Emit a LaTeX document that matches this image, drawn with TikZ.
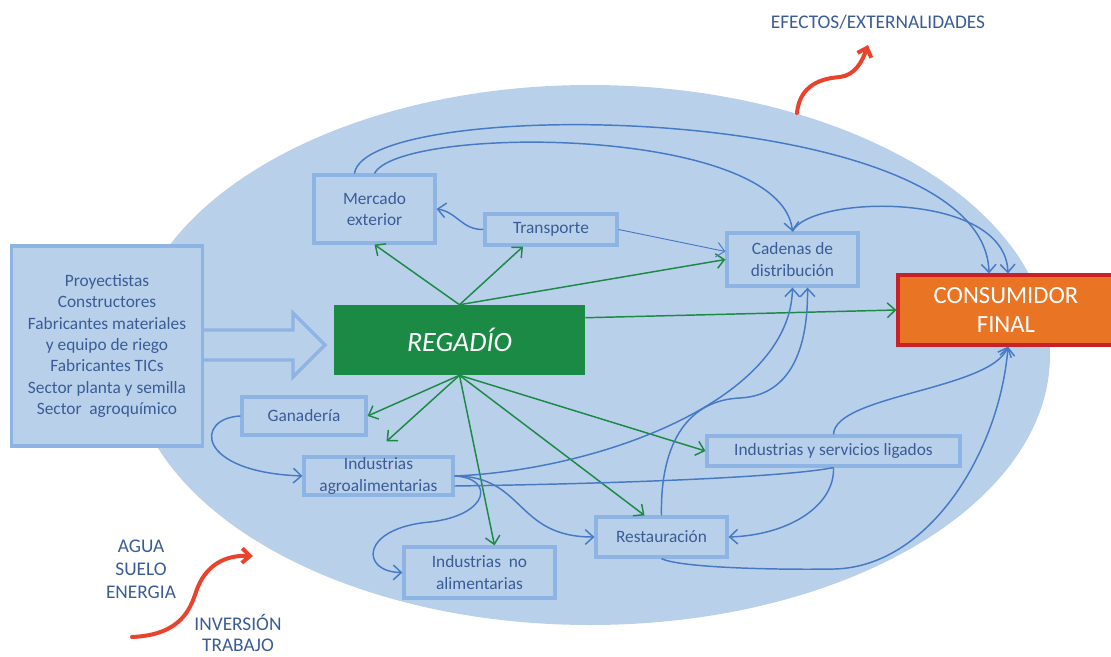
\documentclass[tikz,border=0pt]{standalone}
\usepackage{fontspec}
\setmainfont{Carlito}
\usepackage{xcolor}
\usetikzlibrary{arrows.meta,calc}
\definecolor{ellfill}{RGB}{185,208,235}
\definecolor{boxline}{RGB}{141,180,226}
\definecolor{txtblue}{RGB}{58,92,150}
\definecolor{linkblue}{RGB}{70,122,196}
\definecolor{riego}{RGB}{27,138,68}
\definecolor{consfill}{RGB}{232,116,36}
\definecolor{consline}{RGB}{200,34,40}
\definecolor{redflow}{RGB}{234,67,45}
\tikzset{>={Straight Barb[length=6pt,width=11pt]}}
\tikzset{
	box/.style={draw=boxline, line width=2.4pt, fill=ellfill, text=txtblue,
			align=center, inner sep=0pt, font=\fontsize{13}{16}\selectfont},
	bluelink/.style={draw=linkblue, line width=1.1pt, ->},
	greenlink/.style={draw=riego, line width=1.1pt, ->},
	extflow/.style={draw=redflow, line width=3pt, line cap=round,
			-{Straight Barb[length=6pt,width=11pt]}},
	labeltxt/.style={text=txtblue, align=center, inner sep=0pt}
}

\begin{document}
\begin{tikzpicture}[x=0.75pt,y=-0.75pt]
		\useasboundingbox (0,0) rectangle (1111,657);
		\fill[ellfill] (590,355) ellipse [x radius=460, y radius=270];

		\node[box, minimum width=143.25pt, minimum height=150pt] (prov) at (107,346)
		{Proyectistas\\Constructores\\Fabricantes materiales\\y equipo de riego\\Fabricantes TICs\\Sector planta y semilla\\Sector~ agroquímico};
		\draw[boxline, line width=2.4pt, fill=ellfill, line join=miter] (204,330) -- (293,330) -- (293,313) -- (325,345) -- (293,377) -- (293,360) -- (204,360);

		\node[fill=riego, text=white, minimum width=188.25pt, minimum height=52.5pt, inner sep=0pt,
			font=\fontsize{21}{25}\selectfont\itshape] (reg) at (459.5,340) {REGADÍO};
		\node[box, minimum width=90.75pt, minimum height=51pt] (merc) at (374.5,209) {Mercado\\exterior};
		\node[box, minimum width=99pt, minimum height=23.25pt] (transp) at (551,229.5) {Transporte};
		\node[box, minimum width=98.25pt, minimum height=39.75pt] (cad) at (792.5,259.5) {Cadenas de\\distribución};
		\node[draw=consline, fill=consfill, line width=2.4pt, text=white, align=center, inner sep=0pt,
			minimum width=162pt, minimum height=52.5pt, font=\fontsize{18.5}{22}\selectfont] (cons) at (1006,310) {CONSUMIDOR\\FINAL};
		\node[box, minimum width=93pt, minimum height=28.5pt] (gan) at (304,416) {Ganadería};
		\node[box, minimum width=111.75pt, minimum height=28.5pt] (agro) at (378.5,476) {Industrias\\agroalimentarias};
		\node[box, minimum width=189.75pt, minimum height=22.5pt] (serv) at (833.5,451) {Industrias y servicios ligados};
		\node[box, minimum width=98.25pt, minimum height=30pt] (rest) at (661.5,537) {Restauración};
		\node[box, minimum width=113.25pt, minimum height=38.25pt] (noal) at (479.5,572.5) {Industrias~ no\\alimentarias};

		\draw[greenlink] (reg.north) -- (merc.south);
		\draw[greenlink] (reg.north) -- ($(transp.south)+(-28,0)$);
		\draw[greenlink] (reg.north) -- (cad.west);
		\draw[greenlink] ($(reg.north east)+(0,13)$) -- (cons.west);
		\draw[greenlink] (reg.south) -- (gan.east);
		\draw[greenlink] (reg.south) -- ($(agro.north)+(8,-14)$);
		\draw[greenlink] (reg.south) -- ($(noal.north)+(15,0)$);
		\draw[greenlink] (reg.south) -- ($(rest.north)+(-17,0)$);
		\draw[greenlink] (reg.south) -- (serv.west);

		\draw[bluelink] ($(merc.north)+(-20,0)$) .. controls (365,95) and (985,100) .. ($(cons.north)+(-17,0)$);
		\draw[bluelink] (merc.north) .. controls (400,125) and (780,125) .. (cad.north);
		\draw[bluelink] (cad.north) .. controls (810,195) and (1005,190) .. ($(cons.north)+(2,0)$);
		\draw[bluelink] (transp.west) .. controls (462,230) and (457,212) .. (merc.east);
		\draw[bluelink, line width=0.7pt] (transp.east) -- ($(cad.west)+(0,-8)$);
		\draw[bluelink] (agro.east) .. controls (600,470) and (790,400) .. (cad.south);
		\draw[bluelink] (rest.north) .. controls (660,440) and (690,400) .. (740,398)
		.. controls (800,395) and (808,330) .. ($(cad.south)+(15,0)$);
		\draw[bluelink, -] ($(agro.east)+(0,10)$) .. controls (600,484) and (780,478) .. (serv.south);
		\draw[bluelink] (serv.south) .. controls (835,505) and (790,535) .. (rest.east);
		\draw[bluelink] (serv.north) .. controls (835,395) and (990,390) .. ($(cons.south)+(2,0)$);
		\draw[bluelink] (rest.south) .. controls (680,568) and (780,570) .. (834,569)
		.. controls (930,567) and (1000,450) .. ($(cons.south)+(2,0)$);
		\draw[bluelink] (gan.west) .. controls (195,418) and (195,472) .. (agro.west);
		\draw[bluelink] (agro.east) .. controls (525,476) and (515,537) .. (rest.west);
		\draw[bluelink] (agro.east) .. controls (495,478) and (490,515) .. (430,522)
		.. controls (360,528) and (360,572) .. (noal.west);

		\coordinate (efbase) at (797,113);
		\coordinate (eftip) at (868,45);
		\draw[extflow] (efbase) .. controls (800,80) and (830,78) .. (840,77) .. controls (855,75) and (862,62) .. (eftip);
		\coordinate (inbase) at (132,637);
		\coordinate (intip) at (253,556);
		\draw[extflow] (inbase) .. controls (180,635) and (190,610) .. (196,592) .. controls (205,565) and (225,555) .. (intip);

		\node[labeltxt, font=\fontsize{14.5}{17}\selectfont] (efx) at (878,22) {EFECTOS/EXTERNALIDADES};
		\node[labeltxt, font=\fontsize{14.5}{17.4}\selectfont] (recursos) at (141,569) {AGUA\\SUELO\\ENERGIA};
		\node[labeltxt, font=\fontsize{14.5}{16}\selectfont] (insumos) at (238,633) {INVERSIÓN\\TRABAJO};
	\end{tikzpicture}
\end{document}
